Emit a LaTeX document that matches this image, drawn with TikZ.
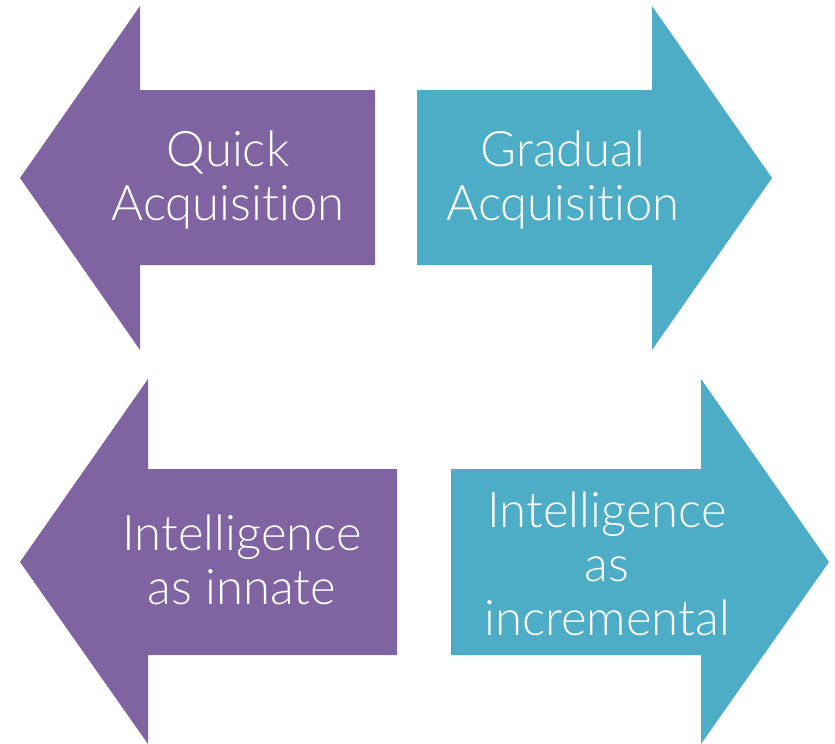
\documentclass[tikz,border=0pt]{standalone}
\usepackage{fontspec}
\setmainfont{Lato}[UprightFont={* Light},Ligatures=NoCommon]
\definecolor{arrpurple}{RGB}{128,100,162}
\definecolor{arrteal}{RGB}{77,173,199}

\begin{document}
\begin{tikzpicture}[x=1pt,y=-1pt,
  lbl/.style={text=white,font=\fontsize{49}{54}\selectfont,align=center,inner sep=0pt}
]
  \useasboundingbox (0,0) rectangle (835,744);
  % arrows
  \fill[arrpurple] (20,178) -- (140,6) -- (140,90) -- (375,90) -- (375,265) -- (140,265) -- (140,350) -- cycle;
  \fill[arrteal] (417,90) -- (652,90) -- (652,6) -- (772,178) -- (652,350) -- (652,265) -- (417,265) -- cycle;
  \fill[arrpurple] (20,562) -- (148,379) -- (148,469) -- (397,469) -- (397,655) -- (148,655) -- (148,744) -- cycle;
  \fill[arrteal] (451,469) -- (701,469) -- (701,379) -- (829,562) -- (701,744) -- (701,655) -- (451,655) -- cycle;
  % labels
  \node[lbl] (quick) at (228,180) {Quick\\Acquisition};
  \node[lbl] (gradual) at (563,180) {Gradual\\Acquisition};
  \node[lbl] (innate) at (242,560) {Intelligence\\as innate};
  \node[lbl] (incr) at (607,564) {Intelligence\\as\\incremental};
\end{tikzpicture}
\end{document}
